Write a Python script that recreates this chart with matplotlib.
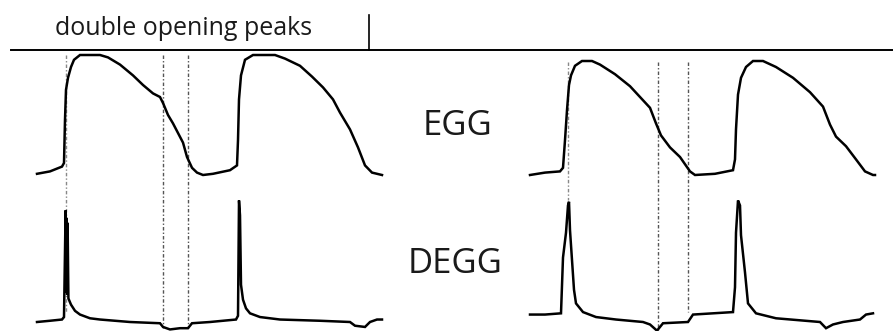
import matplotlib
matplotlib.use("Agg")
import matplotlib.pyplot as plt

# --- waveform samples (time in samples, amplitude normalised) ---
egg_left_t = [0, 13, 25, 27, 28, 29, 31, 34, 37, 43, 63, 71, 83, 96, 106, 116, 123, 126,
              131, 136, 146, 150, 155, 160, 166, 176, 193, 200, 201, 202, 204, 208, 216,
              238, 248, 263, 275, 286, 296, 303, 313, 321, 328, 335, 345]
egg_left_v = [0.01, 0.03, 0.07, 0.10, 0.46, 0.71, 0.81, 0.90, 0.96, 1.00, 1.00, 0.98, 0.92,
              0.83, 0.75, 0.68, 0.65, 0.60, 0.50, 0.43, 0.27, 0.15, 0.06, 0.02, 0.00, 0.01,
              0.04, 0.08, 0.29, 0.63, 0.83, 0.96, 1.00, 1.00, 0.97, 0.91, 0.82, 0.73, 0.63,
              0.52, 0.38, 0.23, 0.08, 0.02, 0.00]

degg_left_t = [0, 13, 25, 27, 28.6, 29.2, 29.6, 30.2, 30.6, 31.4, 34, 38, 43, 53, 63, 93,
               123, 126, 133, 143, 151, 155, 173, 199, 201, 202, 203, 204, 206, 209, 213,
               223, 243, 283, 313, 318, 328, 333, 340, 345]
degg_left_v = [0.00, 0.01, 0.02, 0.04, 0.90, 0.24, 0.84, 0.22, 0.80, 0.19, 0.14, 0.09,
               0.06, 0.03, 0.02, 0.00, -0.01, -0.04, -0.06, -0.05, -0.05, -0.01, 0.00,
               0.02, 0.05, 0.98, 0.86, 0.30, 0.18, 0.11, 0.07, 0.04, 0.02, 0.01, 0.00,
               -0.03, -0.04, 0.00, 0.02, 0.02]

egg_right_t = [0, 15, 30, 33, 35, 37, 39, 41, 45, 52, 62, 70, 85, 100, 110, 120, 126, 131,
               140, 150, 160, 165, 185, 203, 205, 206, 208, 211, 216, 223, 233, 246, 263,
               280, 293, 300, 306, 316, 326, 335, 343, 345]
egg_right_v = [0.00, 0.02, 0.03, 0.06, 0.29, 0.54, 0.75, 0.83, 0.91, 0.95, 0.95, 0.92, 0.84,
               0.74, 0.65, 0.56, 0.43, 0.33, 0.23, 0.15, 0.03, 0.00, 0.01, 0.04, 0.13, 0.38,
               0.67, 0.81, 0.90, 0.95, 0.95, 0.90, 0.81, 0.69, 0.57, 0.42, 0.32, 0.24, 0.13,
               0.03, 0.00, 0.00]

degg_right_t = [0, 15, 31, 33, 36, 38, 39, 40, 42, 44, 46, 53, 66, 86, 113, 120, 127, 133,
                158, 163, 203, 205, 206, 208, 210, 211, 215, 218, 226, 246, 290, 296, 303,
                313, 330, 336, 343]
degg_right_v = [0.06, 0.06, 0.07, 0.52, 0.72, 0.94, 0.97, 0.74, 0.50, 0.26, 0.15, 0.08,
                0.04, 0.02, 0.00, -0.02, -0.07, -0.01, 0.00, 0.06, 0.08, 0.28, 0.72, 0.98,
                0.94, 0.70, 0.40, 0.15, 0.07, 0.03, 0.00, -0.05, -0.02, 0.00, 0.02, 0.06,
                0.07]

# event markers (sample positions)
markers_left = [29, 126, 151]
markers_right = [38, 128, 158]

header_label = "double opening peaks"
egg_label = "EGG"
degg_label = "DEGG"

W, H = 893, 331
fig = plt.figure(figsize=(W / 100, H / 100), dpi=100)
fig.patch.set_facecolor("white")


def px_axes(x0, x1, ytop, ybot):
    ax = fig.add_axes([x0 / W, 1 - ybot / H, (x1 - x0) / W, (ybot - ytop) / H])
    ax.set_axis_off()
    ax.patch.set_alpha(0)
    return ax


def trace(ax, t, v):
    ax.set_xlim(0, 345)
    ax.set_ylim(0, 1)
    ax.plot(t, v, color="black", lw=1.8, clip_on=False, solid_joinstyle="miter")


# overlay for header rule and labels
bg = px_axes(0, W, 0, H)
bg.set_xlim(0, W)
bg.set_ylim(H, 0)
bg.plot([11, W], [50, 50], color="black", lw=1.4)
bg.plot([369, 369], [15, 50], color="black", lw=1.2)

font = ["Open Sans", "DejaVu Sans"]
bg.text(184, 35, header_label, ha="center", va="baseline", fontsize=18,
        family=font, color="#1a1a1a")
bg.text(457, 135, egg_label, ha="center", va="baseline", fontsize=25,
        family=font, color="#1a1a1a")
bg.text(455, 273, degg_label, ha="center", va="baseline", fontsize=25,
        family=font, color="#1a1a1a")

for x0, x1, marks, egg_t, egg_v, degg_t, degg_v, spans in [
    (37, 382, markers_left, egg_left_t, egg_left_v, degg_left_t, degg_left_v,
     [(55, 312), (55, 328), (55, 328)]),
    (530, 875, markers_right, egg_right_t, egg_right_v, degg_right_t, degg_right_v,
     [(62, 200), (62, 330), (62, 312)]),
]:
    col = px_axes(x0, x1, 0, H)
    col.set_xlim(0, 345)
    col.set_ylim(H, 0)
    for i, (m, (ya, yb)) in enumerate(zip(marks, spans)):
        col.plot([m, m], [ya, yb], color="#555555" if i else "#888888",
                 lw=1.0, ls=(0, (2.5, 1.5, 1, 1.5)), clip_on=False)

    egg_ax = px_axes(x0, x1, 55, 175)
    trace(egg_ax, egg_t, egg_v)
    degg_ax = px_axes(x0, x1, 198, 322)
    trace(degg_ax, degg_t, degg_v)

fig.savefig("out.png", dpi=100, facecolor="white")
